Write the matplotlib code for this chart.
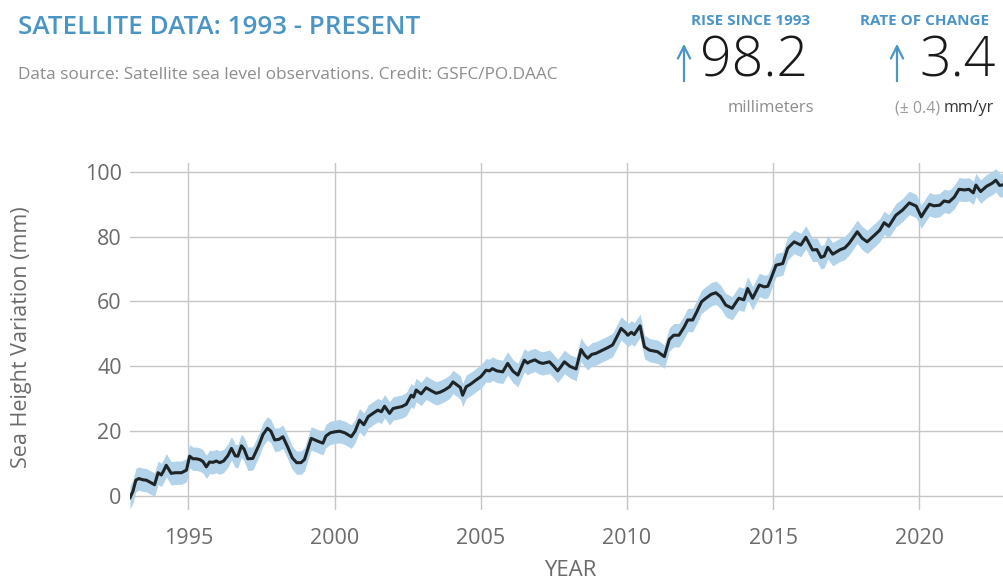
import matplotlib
matplotlib.use('Agg')
import matplotlib.pyplot as plt

plt.rcParams['font.family'] = ['Open Sans', 'DejaVu Sans']

# satellite sea level record
years = [1993.0, 1993.1, 1993.2, 1993.3, 1993.45, 1993.56, 1993.7, 1993.84, 1993.96, 1994.07,
         1994.15, 1994.24, 1994.41, 1994.55, 1994.76, 1994.93, 1995.04, 1995.15, 1995.27, 1995.4,
         1995.5, 1995.61, 1995.72, 1995.84, 1995.95, 1996.07, 1996.2, 1996.35, 1996.47, 1996.6,
         1996.69, 1996.81, 1996.9, 1997.03, 1997.2, 1997.4, 1997.55, 1997.7, 1997.82, 1997.95,
         1998.1, 1998.23, 1998.4, 1998.55, 1998.7, 1998.85, 1998.97, 1999.1, 1999.2, 1999.4,
         1999.6, 1999.7, 1999.85, 2000.0, 2000.17, 2000.35, 2000.57, 2000.7, 2000.85, 2001.0,
         2001.15, 2001.31, 2001.48, 2001.6, 2001.71, 2001.88, 2002.0, 2002.1, 2002.3, 2002.45,
         2002.62, 2002.7, 2002.79, 2002.96, 2003.13, 2003.3, 2003.47, 2003.6, 2003.76, 2003.93,
         2004.05, 2004.2, 2004.3, 2004.38, 2004.5, 2004.65, 2004.84, 2005.0, 2005.18, 2005.3,
         2005.4, 2005.55, 2005.75, 2005.92, 2006.1, 2006.27, 2006.49, 2006.6, 2006.67, 2006.85,
         2007.0, 2007.12, 2007.35, 2007.5, 2007.63, 2007.75, 2007.86, 2008.05, 2008.26, 2008.43,
         2008.55, 2008.66, 2008.8, 2008.94, 2009.17, 2009.35, 2009.51, 2009.65, 2009.8, 2009.95,
         2010.03, 2010.15, 2010.25, 2010.45, 2010.6, 2010.77, 2011.05, 2011.28, 2011.45, 2011.6,
         2011.78, 2011.95, 2012.08, 2012.25, 2012.4, 2012.55, 2012.7, 2012.88, 2013.04, 2013.2,
         2013.38, 2013.6, 2013.75, 2013.83, 2014.0, 2014.13, 2014.3, 2014.53, 2014.7, 2014.82,
         2014.93, 2015.1, 2015.33, 2015.5, 2015.72, 2015.95, 2016.12, 2016.35, 2016.5, 2016.64,
         2016.75, 2016.87, 2017.04, 2017.3, 2017.45, 2017.6, 2017.88, 2018.05, 2018.22, 2018.5,
         2018.65, 2018.8, 2018.96, 2019.2, 2019.43, 2019.66, 2019.9, 2020.07, 2020.2, 2020.35,
         2020.5, 2020.7, 2020.85, 2021.02, 2021.2, 2021.36, 2021.55, 2021.7, 2021.85, 2021.94,
         2022.1, 2022.3, 2022.5, 2022.62, 2022.75, 2022.9]
height_mm = [-0.5, 1.5, 4.9, 5.4, 5.0, 4.9, 4.2, 3.5, 7.2, 6.5,
             7.8, 9.5, 7.0, 7.2, 7.2, 8.0, 12.3, 11.5, 11.5, 11.2,
             10.6, 9.0, 10.5, 10.4, 10.8, 10.3, 10.8, 12.5, 14.7, 12.4,
             12.3, 15.5, 14.5, 11.5, 11.6, 15.5, 19.0, 20.9, 20.0, 17.3,
             17.5, 18.3, 15.0, 11.8, 10.3, 10.3, 11.3, 15.0, 17.8, 17.0,
             16.3, 18.5, 19.5, 19.8, 20.0, 19.5, 18.3, 20.0, 23.4, 22.0,
             24.5, 25.5, 26.5, 26.0, 27.7, 25.5, 27.0, 27.2, 27.6, 28.3,
             31.1, 30.5, 32.7, 31.5, 33.4, 32.5, 31.7, 32.0, 32.7, 33.7,
             35.2, 34.2, 33.5, 31.1, 33.7, 34.5, 35.8, 36.8, 38.8, 38.6,
             39.3, 38.6, 38.3, 40.9, 38.5, 37.3, 41.9, 41.0, 41.4, 42.0,
             41.2, 40.9, 41.4, 40.0, 38.6, 40.0, 41.4, 40.0, 39.2, 45.2,
             43.5, 42.5, 43.7, 44.0, 45.0, 45.8, 46.6, 49.0, 51.7, 50.5,
             49.6, 50.5, 49.8, 52.5, 46.0, 45.0, 44.5, 43.0, 48.3, 49.6,
             49.6, 52.0, 54.3, 54.3, 57.0, 59.9, 61.0, 62.2, 62.7, 61.5,
             58.9, 57.9, 60.0, 61.0, 60.5, 64.0, 61.0, 65.1, 64.5, 64.7,
             67.1, 71.2, 71.7, 76.4, 78.4, 77.4, 79.8, 75.9, 76.0, 73.6,
             74.0, 76.7, 74.6, 76.0, 76.5, 77.9, 81.5, 79.5, 78.4, 80.7,
             82.0, 84.3, 83.2, 86.6, 88.2, 90.4, 89.4, 86.1, 88.0, 90.0,
             89.5, 89.7, 91.0, 90.7, 92.2, 94.6, 94.4, 94.6, 93.5, 95.9,
             93.9, 95.5, 96.5, 97.4, 95.8, 96.0]
band_mm = 3.6  # half-width of the shaded uncertainty band

xticks = [1995, 2000, 2005, 2010, 2015, 2020]
yticks = [0, 20, 40, 60, 80, 100]

blue = '#4b95c6'
grey_txt = '#6b6b6b'

fig = plt.figure(figsize=(10.04, 5.81), dpi=100)
ax = fig.add_axes([0.1295, 0.1222, 0.8705, 0.5972])

lo = [v - band_mm for v in height_mm]
hi = [v + band_mm for v in height_mm]
ax.fill_between(years, lo, hi, color='#b2d3ea', lw=0, zorder=2)
ax.plot(years, height_mm, color='#1f2427', lw=2.2, zorder=3)

ax.set_xlim(1993.0, 2022.9)
ax.set_ylim(-4.3, 102.7)
ax.set_xticks(xticks)
ax.set_yticks(yticks)
ax.grid(True, color='#c6c6c6', lw=1.0, zorder=0)
ax.set_axisbelow(True)
for s in ax.spines.values():
    s.set_visible(False)
ax.tick_params(length=0, labelsize=15.5, colors=grey_txt)
ax.tick_params(axis='x', pad=13)
ax.tick_params(axis='y', pad=6)

fig.text(22/1004, 1-337/581, 'Sea Height Variation (mm)', rotation=90,
         ha='center', va='center', fontsize=15.5, color=grey_txt)
fig.text(570/1004, 1-570/581, 'YEAR', ha='center', va='center',
         fontsize=16, color=grey_txt)

# header
fig.text(18/1004, 1-28/581, 'SATELLITE DATA: 1993 - PRESENT', ha='left',
         va='center', fontsize=18.7, color=blue, weight='semibold')
fig.text(18/1004, 1-75/581,
         'Data source: Satellite sea level observations. Credit: GSFC/PO.DAAC',
         ha='left', va='center', fontsize=12.4, color='#8d8d8d')

fig.text(751/1004, 1-21/581, 'RISE SINCE 1993', ha='center', va='center',
         fontsize=11, color=blue, weight='bold')
fig.text(925/1004, 1-21/581, 'RATE OF CHANGE', ha='center', va='center',
         fontsize=11, color=blue, weight='bold')

for xa in [684, 897]:
    fig.add_artist(matplotlib.patches.FancyArrowPatch(
        (xa/1004, 1-84/581), (xa/1004, 1-41/581), transform=fig.transFigure,
        arrowstyle='->', mutation_scale=22, lw=1.6, color=blue))

fig.text(808/1004, 1-62/581, '98.2', ha='right', va='center',
         fontsize=40, color='#1a1a1a', weight='light')
fig.text(996/1004, 1-62/581, '3.4', ha='right', va='center',
         fontsize=40, color='#1a1a1a', weight='light')
fig.text(814/1004, 1-108/581, 'millimeters', ha='right', va='center',
         fontsize=12, color='#8d8d8d')
fig.text(940/1004, 1-108/581, '(± 0.4)', ha='right', va='center',
         fontsize=11.5, color='#9a9a9a')
fig.text(944/1004, 1-108/581, 'mm/yr', ha='left', va='center',
         fontsize=11.5, color='#333333')

fig.savefig('out.png', dpi=100)
